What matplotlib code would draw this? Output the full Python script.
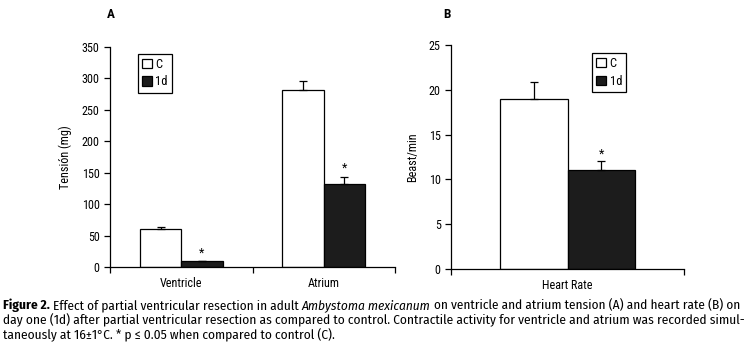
import numpy as np
import matplotlib
matplotlib.use("Agg")
import matplotlib.pyplot as plt

plt.rcParams['font.family'] = 'Roboto Condensed'

# data
cats_a = ['Ventricle', 'Atrium']
ctrl_a = [61, 282]
ctrl_a_err = [3, 14]
day1_a = [9, 132]
day1_a_err = [0, 12]

cats_b = ['Heart Rate']
ctrl_b = [19.0]
ctrl_b_err = [1.9]
day1_b = [11.0]
day1_b_err = [1.1]

WHITE = '#ffffff'
BLACK = '#1c1c1c'
W = 0.29
FS = 8.7

fig = plt.figure(figsize=(7.45, 3.45), dpi=100)
ax_a = fig.add_axes([0.1477, 0.226, 0.3826, 0.6377])
ax_b = fig.add_axes([0.6054, 0.2203, 0.3128, 0.6493])


def draw_panel(ax, cats, c, ce, d, de, ymax, ystep, ylabel, star_pad):
    x = np.arange(len(cats))
    ekw = dict(elinewidth=0.9, capthick=0.9, ecolor='black')
    b1 = ax.bar(x - W / 2, c, W, color=WHITE, edgecolor='black', linewidth=0.9,
                yerr=[np.zeros(len(c)), ce], capsize=3, error_kw=ekw, label='C')
    b2 = ax.bar(x + W / 2, d, W, color=BLACK, edgecolor='black', linewidth=0.9,
                yerr=[np.zeros(len(d)), de], capsize=3, error_kw=ekw, label='1d')
    for xi, v, e in zip(x, d, de):
        ax.text(xi + W / 2, v + e + star_pad, '*', ha='center', va='bottom', fontsize=9)
    ax.set_xlim(-0.5, len(cats) - 0.5)
    ax.set_ylim(0, ymax)
    ax.set_yticks(np.arange(0, ymax + 1, ystep))
    ax.set_xticks(x)
    ax.set_xticklabels(cats, fontsize=FS)
    ax.set_xticks(np.arange(-0.5, len(cats), 1), minor=True)
    ax.tick_params(axis='x', which='major', length=0, pad=7)
    ax.tick_params(axis='x', which='minor', length=4, width=0.9)
    ax.tick_params(axis='y', length=4, width=0.9, labelsize=FS)
    ax.spines['top'].set_visible(False)
    ax.spines['right'].set_visible(False)
    for s in ('left', 'bottom'):
        ax.spines[s].set_linewidth(0.9)
    ax.set_ylabel(ylabel, fontsize=FS, labelpad=7)
    return b1, b2


draw_panel(ax_a, cats_a, ctrl_a, ctrl_a_err, day1_a, day1_a_err, 350, 50, 'Tensión (mg)', 3)
draw_panel(ax_b, cats_b, ctrl_b, ctrl_b_err, day1_b, day1_b_err, 25, 5, 'Beast/min', 0.05)

leg_kw = dict(loc='upper left', fontsize=9, handlelength=0.75, handleheight=0.75,
              handletextpad=0.3, borderpad=0.35, labelspacing=0.35, fancybox=False,
              framealpha=1, edgecolor='black', borderaxespad=0)
leg_a = ax_a.legend(bbox_to_anchor=(0.098, 0.97), **leg_kw)
leg_a.get_frame().set_linewidth(0.9)
leg_b = ax_b.legend(bbox_to_anchor=(0.605, 0.965), **leg_kw)
leg_b.get_frame().set_linewidth(0.9)

fig.text(107 / 745, 1 - 14 / 345, 'A', fontsize=9.5, fontweight='bold', ha='left', va='center')
fig.text(443 / 745, 1 - 14 / 345, 'B', fontsize=9.5, fontweight='bold', ha='left', va='center')

# caption: each line in a few styled pieces, first two lines sized to fill the width
lines = [
    [('Figure 2.', 'bold', 'normal'),
     ('Effect of partial ventricular resection in adult', 'normal', 'normal'),
     ('Ambystoma mexicanum', 'normal', 'italic'),
     ('on ventricle and atrium tension (A) and heart rate (B) on', 'normal', 'normal')],
    [('day one (1d) after partial ventricular resection as compared to control. '
      'Contractile activity for ventricle and atrium was recorded simul-', 'normal', 'normal')],
    [('taneously at 16±1°C. * p ≤ 0.05 when compared to control (C).', 'normal', 'normal')],
]
justify = [True, True, False]
renderer = fig.canvas.get_renderer()
baselines = [309, 324, 339]
X0, X1 = 3, 741
CFS = 9.4
CFAM = 'Fira Sans Condensed'


def space_w(fs):
    t1 = fig.text(0, 0, 'a a', fontsize=fs, family=CFAM)
    t2 = fig.text(0, 0, 'aa', fontsize=fs, family=CFAM)
    w = t1.get_window_extent(renderer).width - t2.get_window_extent(renderer).width
    t1.remove()
    t2.remove()
    return w


def place_line(ln, yy, fs):
    arts = []
    for txt, wt, st in ln:
        t = fig.text(0, 1 - yy / 345, txt, fontsize=fs, fontweight=wt, family=CFAM,
                     fontstyle=st, ha='left', va='baseline')
        arts.append(t)
    gap = space_w(fs)
    widths = [t.get_window_extent(renderer).width for t in arts]
    return arts, widths, gap


sizes = []
for ln, yy, jus in zip(lines, baselines, justify):
    arts, widths, gap = place_line(ln, yy, CFS)
    fs = CFS
    if jus:
        total = sum(widths) + gap * (len(arts) - 1)
        fs = CFS * (X1 - X0) / total
        for t in arts:
            t.remove()
        arts, widths, gap = place_line(ln, yy, fs)
        sizes.append(fs)
    else:
        fs = np.mean(sizes)
        for t in arts:
            t.remove()
        arts, widths, gap = place_line(ln, yy, fs)
    xpix = X0
    for t, wd in zip(arts, widths):
        t.set_x(xpix / 745)
        xpix += wd + gap

fig.savefig('out.png', dpi=100)
